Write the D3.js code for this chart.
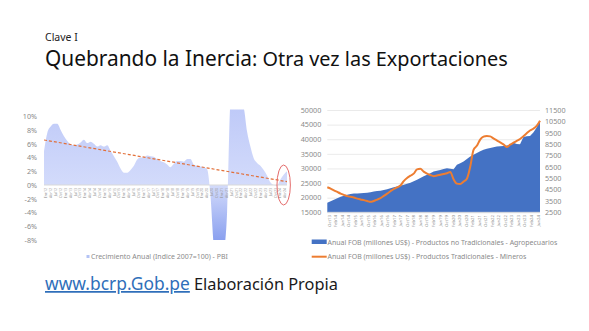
<!DOCTYPE html>
<html><head><meta charset="utf-8">
<script src="https://cdn.jsdelivr.net/npm/d3@7"></script>
<style>body{margin:0;background:#fff} svg{display:block} text{font-family:"Noto Sans",sans-serif}</style>
</head><body><svg id="c" width="589" height="331"></svg>
<script>
// ---------- data: left chart (PBI growth) ----------
const gdpLabels = ["Ene12","Abr12","Jul12","Oct12","Ene13","Abr13","Jul13","Oct13","Ene14","Abr14","Jul14","Oct14",
  "Ene15","Abr15","Jul15","Oct15","Ene16","Abr16","Jul16","Oct16","Ene17","Abr17","Jul17","Oct17",
  "Ene18","Abr18","Jul18","Oct18","Ene19","Abr19","Jul19","Oct19","Ene20","Abr20","Jul20","Oct20",
  "Ene21","Abr21","Jul21","Oct21","Ene22","Abr22","Jul22","Oct22","Ene23","Abr23","Jul23","Oct23","Ene24","Abr24"];
const gdpGrowth = [4.9,7.6,8.5,8.9,8.9,8.0,7.1,6.4,5.9,5.8,5.9,6.2,6.6,6.1,6.3,6.0,5.6,5.8,5.6,5.8,
  5.0,4.2,3.4,2.4,1.8,1.8,2.2,2.8,3.7,4.0,4.0,4.3,4.2,4.1,3.7,3.5,3.3,3.0,2.6,3.1,
  3.5,3.5,3.4,3.8,3.8,3.0,2.8,2.7,2.6,2.3,-1.5,-9,-12,-12,-10,-4,12,14,13,12,
  11.2,7.8,5.6,3.9,3.2,2.8,2.2,1.4,0.4,0.0,-0.1,0.8,1.5,2.0];
const gdpTicks = [-8,-6,-4,-2,0,2,4,6,8,10];
const gdpDomain = [-8, 11];
const trendEnds = [6.55, 0.49];
const gdpLegend = "Crecimiento Anual (Indice 2007=100) - PBI";

// ---------- data: right chart (exports) ----------
const expLabels = ["Oct13","Feb14","Jun14","Oct14","Feb15","Jun15","Oct15","Feb16","Jun16","Oct16","Feb17",
  "Jun17","Oct17","Feb18","Jun18","Oct18","Feb19","Jun19","Oct19","Feb20","Jun20","Oct20","Feb21",
  "Jun21","Oct21","Feb22","Jun22","Oct22","Feb23","Jun23","Oct23","Feb24","Jun24"];
const agroValues = [18300,18800,19300,19800,20300,20700,21000,21300,21400,21450,21500,21600,21700,21900,22100,
  22250,22400,22650,22900,23250,23600,23800,24050,24400,24750,25150,25600,26150,26750,27300,27850,28400,
  28950,29200,29500,29800,30050,29900,29700,31300,31800,32400,33200,34100,34700,35300,35900,36400,36700,
  37000,37250,37500,37600,37700,37850,38000,38800,38350,38300,40800,41000,41100,42300,44000,46500];
const mineValues = [4700,4580,4430,4290,4150,4030,3920,3860,3800,3700,3630,3570,3500,3420,3500,3620,3750,
  3940,4140,4350,4550,4700,4850,5250,5520,5720,5900,6280,6330,6080,5900,5780,5680,5730,5800,5870,5940,
  6050,5400,5020,4980,5200,5450,6500,8000,8350,8900,9150,9220,9180,9000,8830,8650,8480,8250,8450,8620,
  8780,8950,9200,9450,9700,9850,10100,10560];
const leftTicks = [15000,20000,25000,30000,35000,40000,45000,50000];
const rightTicks = [2500,3500,4500,5500,6500,7500,8500,9500,10500,11500];
const legendAgro = "Anual FOB (millones US$) - Productos no Tradicionales - Agropecuarios";
const legendMine = "Anual FOB (millones US$) - Productos Tradicionales - Mineros";

const svg = d3.select("#c");
const grey = "#8a8a8a";

function fit(sel, target){
  const w = sel.node().getComputedTextLength();
  sel.attr("font-size", parseFloat(sel.attr("font-size")) * target / w);
  return sel;
}

// ---------- titles ----------
svg.append("text").attr("x",45).attr("y",40.5).attr("font-size",10.5).attr("fill","#222").text("Clave I");
fit(svg.append("text").attr("x",45).attr("y",66).attr("font-size",20).attr("fill","#111").text("Quebrando la Inercia"),207);
fit(svg.append("text").attr("x",252).attr("y",66).attr("font-size",16).attr("fill","#111").text(": Otra vez las Exportaciones"),256);

// footer
fit(svg.append("text").attr("x",45).attr("y",290).attr("font-size",16).attr("fill","#2f6fba")
  .attr("text-decoration","underline").text("www.bcrp.Gob.pe"),145);
fit(svg.append("text").attr("x",194).attr("y",290).attr("font-size",16).attr("fill","#1a1a1a").text("Elaboración Propia"),144);

// ---------- left chart ----------
const defs = svg.append("defs");
const L = {x0:44, x1:287};
const yG = d3.scaleLinear().domain(gdpDomain).range([240, 109.4]);
const xG = d3.scaleLinear().domain([0, gdpGrowth.length-1]).range([L.x0, L.x1]);
const xGl = d3.scalePoint().domain(gdpLabels).range([46, 285]);

defs.append("clipPath").attr("id","clipG").append("rect")
  .attr("x",L.x0).attr("y",yG(gdpDomain[1])).attr("width",L.x1-L.x0).attr("height",yG(gdpDomain[0])-yG(gdpDomain[1]));
const grad = defs.append("linearGradient").attr("id","gG").attr("gradientUnits","userSpaceOnUse")
  .attr("x1",0).attr("x2",0).attr("y1",yG(gdpDomain[1])).attr("y2",yG(gdpDomain[0]));
grad.append("stop").attr("offset",0).attr("stop-color","#bfcaf8");
grad.append("stop").attr("offset",0.58).attr("stop-color","#d3dbfb");
grad.append("stop").attr("offset",1).attr("stop-color","#8aa0ef");

svg.append("path").datum(gdpGrowth).attr("clip-path","url(#clipG)")
  .attr("fill","url(#gG)")
  .attr("d", d3.area().x((d,i)=>xG(i)).y0(yG(0)).y1(d=>yG(d)).curve(d3.curveMonotoneX));

svg.append("line").attr("x1",L.x0).attr("x2",L.x1).attr("y1",yG(0)).attr("y2",yG(0))
  .attr("stroke","#d9d9d9").attr("stroke-width",1);

const axG = svg.append("g").attr("transform",`translate(${L.x0},0)`)
  .call(d3.axisLeft(yG).tickValues(gdpTicks).tickFormat(d=>d+"%").tickSize(0).tickPadding(7));
axG.select(".domain").remove();
axG.selectAll("text").attr("font-family","Noto Sans").attr("font-size",7.2).attr("fill",grey);

svg.append("g").selectAll("text").data(gdpLabels).join("text")
  .attr("transform",d=>`translate(${xGl(d)+1.3},188) rotate(-90)`)
  .attr("text-anchor","end").attr("font-size",3.6).attr("fill","#999").text(d=>d);

// trend line
svg.append("line").attr("x1",xG(0)).attr("x2",xG(gdpGrowth.length-1))
  .attr("y1",yG(trendEnds[0])).attr("y2",yG(trendEnds[1]))
  .attr("stroke","#e2703a").attr("stroke-width",1.2).attr("stroke-dasharray","3,2");

// highlight ellipse
svg.append("ellipse").attr("cx",xG(gdpGrowth.length-2)).attr("cy",yG(0)).attr("rx",6.7).attr("ry",20)
  .attr("fill","none").attr("stroke","#e46b6b").attr("stroke-width",1);

// legend
svg.append("rect").attr("x",86.5).attr("y",255).attr("width",3).attr("height",3).attr("fill","#b4c3f5");
fit(svg.append("text").attr("x",91).attr("y",259.3).attr("font-size",6.5).attr("fill",grey).text(gdpLegend),137);

// ---------- right chart ----------
const R = {x0:327.3, x1:540};
const xR = d3.scaleLinear().domain([0, agroValues.length-1]).range([R.x0, R.x1]);
const xRl = d3.scalePoint().domain(expLabels).range([329, 538]);
const yL = d3.scaleLinear().domain([15000,50000]).range([212.3,110]);
const yR = d3.scaleLinear().domain([2500,11500]).range([212.3,110]);

const grid = svg.append("g").attr("transform",`translate(${R.x0},0)`)
  .call(d3.axisLeft(yL).tickValues(leftTicks).tickSize(-(R.x1-R.x0)).tickFormat(d3.format("d")).tickPadding(6));
grid.select(".domain").remove();
grid.selectAll("line").attr("stroke","#e4e4e4").attr("stroke-width",0.8);
grid.selectAll("text").attr("font-family","Noto Sans").attr("font-size",7.2).attr("fill",grey);

const axR = svg.append("g").attr("transform",`translate(${R.x1},0)`)
  .call(d3.axisRight(yR).tickValues(rightTicks).tickSize(0).tickFormat(d3.format("d")).tickPadding(5));
axR.select(".domain").remove();
axR.selectAll("text").attr("font-family","Noto Sans").attr("font-size",7.2).attr("fill",grey);

svg.append("path").datum(agroValues).attr("fill","#4472c4")
  .attr("d", d3.area().x((d,i)=>xR(i)).y0(yL(15000)).y1(d=>yL(d)));

svg.append("path").datum(mineValues).attr("fill","none").attr("stroke","#ed7d31").attr("stroke-width",2)
  .attr("stroke-linejoin","round")
  .attr("d", d3.line().x((d,i)=>xR(i)).y(d=>yR(d)).curve(d3.curveMonotoneX));

svg.append("line").attr("x1",R.x0).attr("x2",R.x1).attr("y1",yL(15000)).attr("y2",yL(15000))
  .attr("stroke","#d9d9d9").attr("stroke-width",0.8);

svg.append("g").selectAll("text").data(expLabels).join("text")
  .attr("transform",d=>`translate(${xRl(d)+1.5},215) rotate(-90)`)
  .attr("text-anchor","end").attr("font-size",4.3).attr("fill","#888").text(d=>d);

// legend
svg.append("rect").attr("x",311.7).attr("y",239.5).attr("width",15).attr("height",4.5).attr("fill","#4472c4");
fit(svg.append("text").attr("x",327.5).attr("y",244.5).attr("font-size",7).attr("fill",grey).text(legendAgro),230);
svg.append("line").attr("x1",311.7).attr("x2",326.7).attr("y1",256.7).attr("y2",256.7)
  .attr("stroke","#ed7d31").attr("stroke-width",2);
fit(svg.append("text").attr("x",327.5).attr("y",259.2).attr("font-size",7).attr("fill",grey).text(legendMine),199);
</script></body></html>
